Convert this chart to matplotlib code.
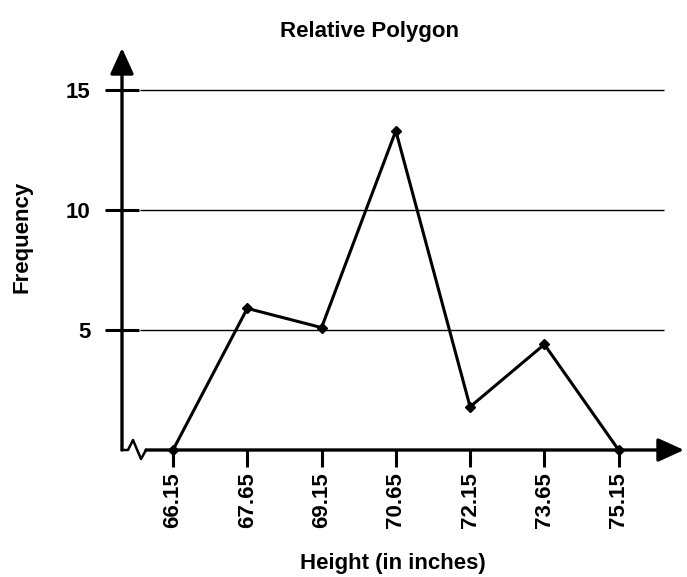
import matplotlib
matplotlib.use("Agg")
import matplotlib.pyplot as plt

# data
heights = [66.15, 67.65, 69.15, 70.65, 72.15, 73.65, 75.15]
freq = [0, 5.9, 5.1, 13.3, 1.8, 4.4, 0]
tick_labels = ["66.15", "67.65", "69.15", "70.65", "72.15", "73.65", "75.15"]
y_ticks = [5, 10, 15]

plt.rcParams["font.family"] = ["Liberation Sans", "DejaVu Sans"]
plt.rcParams["font.weight"] = "bold"

W, H = 687, 577
fig = plt.figure(figsize=(W / 100, H / 100), dpi=100)
# axes box in pixels: x 122..684, y 48..450
ax = fig.add_axes([122 / W, (H - 450) / H, (684 - 122) / W, (450 - 48) / H])
ax.set_xlim(65.12, 76.47)
ax.set_ylim(0, 16.75)
for s in ax.spines.values():
    s.set_visible(False)

aw, ah = 562.0, 402.0  # axes size in px

# grid lines
ax.hlines(y_ticks, 65.12 + (18 / aw) * 11.35, 65.12 + (542 / aw) * 11.35,
          color="black", lw=1)

# axes with arrows
arrow = dict(arrowstyle="-|>,head_length=0.66,head_width=0.3", lw=2.4,
             color="black", mutation_scale=24, shrinkA=0, shrinkB=0)
ax.annotate("", xy=(0, 1), xytext=(0, 0), xycoords="axes fraction",
            arrowprops=arrow)
ax.annotate("", xy=(1, 0), xytext=(24 / aw, 0), xycoords="axes fraction",
            arrowprops=arrow)
# axis break zigzag
zx = [0, 6, 11, 19, 24]
zy = [0, 0, 10, -9, 0]
ax.plot([v / aw for v in zx], [v / ah for v in zy], color="black", lw=1.8,
        transform=ax.transAxes, clip_on=False)

# polygon
ax.plot(heights, freq, color="black", lw=2.2, marker="D", markersize=5.5,
        clip_on=False, zorder=5)

ax.set_xticks(heights)
ax.set_xticklabels(tick_labels, rotation=90)
ax.set_yticks(y_ticks)
ax.set_yticklabels([str(v) for v in y_ticks])
ax.tick_params(axis="x", direction="out", length=12, width=2.2, pad=4,
               labelsize=16)
ax.tick_params(axis="y", direction="inout", length=25, width=2.2, pad=10,
               labelsize=16)

fig.text(370 / W, 1 - 32 / H, "Relative Polygon", ha="center", va="center",
         fontsize=16, fontweight="bold")
fig.text(22 / W, 1 - 237 / H, "Frequency", ha="center", va="center",
         rotation=90, fontsize=16, fontweight="bold")
fig.text(393 / W, 1 - 563 / H, "Height (in inches)", ha="center", va="center",
         fontsize=16, fontweight="bold")

fig.savefig("out.png", dpi=100)
